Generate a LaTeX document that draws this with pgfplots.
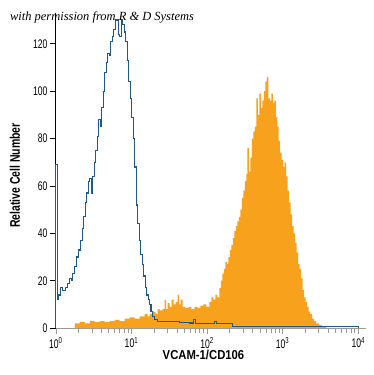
\documentclass[border=0pt]{standalone}
\usepackage{fontspec}
\setmainfont{Liberation Sans}[FakeStretch=0.82]
\newfontfamily\tickfont{Liberation Sans}[FakeStretch=0.69]
\newfontfamily\xlabfont{Liberation Sans}[FakeStretch=0.87]
\newfontfamily\ylabfont{Liberation Sans}[FakeStretch=0.75]
\newfontfamily\permfont{Liberation Serif}
\usepackage{pgfplots}
\pgfplotsset{compat=1.18}
\definecolor{isoblue}{HTML}{1C5A8A}
\definecolor{vorange}{HTML}{F7A11C}
\begin{document}
\begin{tikzpicture}
\begin{axis}[name=ax, scale only axis, width=311pt, height=316pt,
  xmode=log, xmin=1, xmax=12680, ymin=0, ymax=133,
  clip=false,
  axis x line=bottom, axis y line=left,
  x axis line style={-, draw=gray!80, line width=0.8pt},
  y axis line style={-, draw=black, line width=0.8pt},
  xtick={1,10,100,1000,10000},
  xticklabels={10\textsuperscript{0},10\textsuperscript{1},10\textsuperscript{2},10\textsuperscript{3},10\textsuperscript{4}},
  minor xtick={2,3,4,5,6,7,8,9,20,30,40,50,60,70,80,90,200,300,400,500,600,700,800,900,2000,3000,4000,5000,6000,7000,8000,9000},
  ytick={0,20,40,60,80,100,120},
  tick align=outside, major tick length=6pt, minor tick length=5pt,
  xtick style={draw=gray!80, line width=0.7pt},
  minor x tick style={draw=gray!80, line width=0.7pt},
  ytick style={draw=black, line width=0.7pt},
  /pgf/number format/assume math mode=true,
  ticklabel style={font=\tickfont\fontsize{12.5}{12.5}\selectfont},
  yticklabel style={xshift=1pt},
  xlabel={VCAM-1/CD106},
  ylabel={Relative Cell Number},
  xlabel style={font=\xlabfont\fontsize{13}{13}\selectfont\bfseries, at={(axis description cs:0.476,-0.085)}, anchor=center},
  ylabel style={font=\ylabfont\fontsize{14}{14}\selectfont\bfseries, at={(axis description cs:-0.132,0.484)}, anchor=center},
]
\addplot[const plot, fill=vorange, draw=none] coordinates {
(1.781,2) (2.073,2.5) (2.413,2) (2.809,3) (3.269,2.5) (3.806,3) (4.431,2.5) (5.158,3) (6.003,3.5) (6.988,3)
(8.135,4) (9.468,4.5) (11.02,4) (12.83,5) (14.94,6) (16.36,5) (17.38,6) (19.04,7) (20.86,6) (22.16,8)
(23.56,7.5) (25.80,8) (27.42,11.8) (28.70,8) (30.03,10.5) (31.92,9) (33.91,12) (36.05,10) (38.30,11) (40.70,14)
(42.60,10) (44.58,12) (47.37,9) (51.89,8.5) (56.84,9) (62.26,8) (68.20,9) (74.70,8.5) (81.84,9.5) (89.64,10)
(98.20,9) (107.6,11) (114.3,13) (121.5,12) (129.1,14) (137.2,13) (145.8,17) (152.6,20) (159.7,23) (167.1,25)
(174.9,28) (183.0,27) (191.5,30) (200.5,33) (209.9,35) (219.6,38) (229.9,41) (240.6,43) (251.8,45) (263.5,47)
(275.8,50) (288.7,55) (302.1,58) (316.2,62) (331.0,65) (341.2,76) (357.1,66) (373.8,72) (391.2,80) (409.5,83)
(428.6,85) (448.6,97) (469.4,90) (491.3,99) (514.2,93) (538.2,96) (563.3,100) (589.6,104) (617.1,106) (645.8,97)
(675.9,96) (707.4,99) (740.4,95) (774.9,96) (811.0,89) (848.8,85) (888.4,79) (929.8,74) (973.1,71) (1018,68)
(1066,70) (1116,64) (1168,58) (1222,53) (1279,48) (1339,43) (1401,40) (1466,36) (1535,32) (1607,27)
(1681,25) (1760,21) (1842,16) (1928,13) (2018,11) (2112,9) (2210,7) (2313,6) (2458,4) (2612,3)
(2775,2) (3040,1.3) (3330,0.8) (3761,0)
} \closedcycle;
\addplot[const plot, draw=isoblue, line width=1.2pt] coordinates {
(1,0) (1,69) (1.047,12) (1.095,14) (1.147,17) (1.237,16) (1.355,17) (1.440,19) (1.530,21) (1.626,20) (1.676,23)
(1.781,26) (1.892,30) (2.011,33) (2.137,37) (2.237,42) (2.341,47) (2.450,53) (2.564,57) (2.684,62) (2.809,63)
(2.940,57) (3.077,64) (3.220,70) (3.371,75) (3.527,81) (3.692,88) (3.864,85) (4.045,93) (4.233,100) (4.431,108)
(4.637,112) (4.853,116) (5.080,115) (5.316,121) (5.564,123) (5.824,126) (6.095,130) (6.379,130) (6.676,124) (6.987,123)
(7.313,130) (7.654,128) (8.011,125) (8.384,121) (8.775,113) (9.185,104) (9.612,97) (10.06,89) (10.53,80) (11.02,68)
(11.53,52) (12.07,44) (12.64,37) (13.22,31) (13.84,27) (14.49,22) (15.16,17) (15.87,14) (16.61,12) (17.38,10)
(18.19,7) (19.04,5) (20.24,3.5) (22.16,2.7) (25.03,2.7) (31.92,2.7) (43.25,2.5) (58.60,2.2) (66,3.5) (70,2)
(79.39,2) (107.6,1.8) (125,2.8) (135,1.8) (145.8,1.8) (216.3,0.6) (10000,0.6) (10000,0)
};
\node[anchor=west, font=\permfont\itshape\fontsize{12.5}{12.5}\selectfont, inner sep=0pt]
  at (axis description cs:-0.148,0.985) {with permission from R \& D Systems};
\end{axis}
\path ([xshift=-56pt,yshift=-47pt]ax.south west) rectangle ([xshift=8pt,yshift=13pt]ax.north east);
\end{tikzpicture}
\end{document}
